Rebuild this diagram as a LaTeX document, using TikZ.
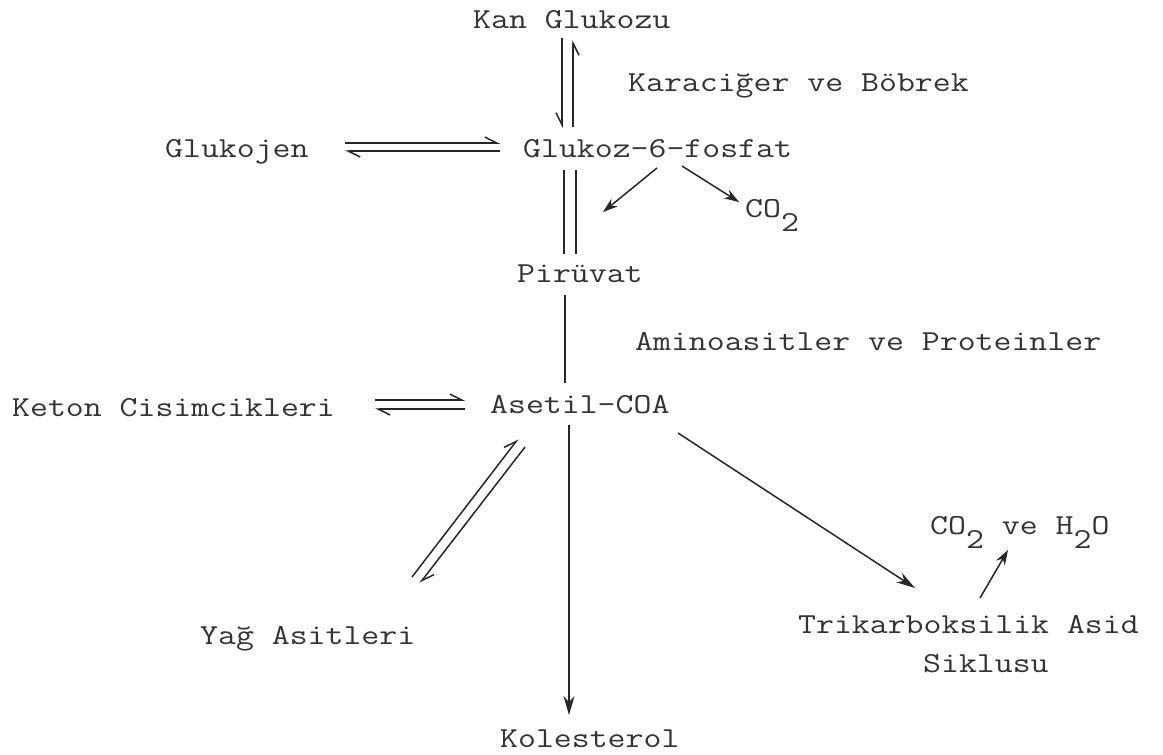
\documentclass[tikz,border=0pt]{standalone}
\usetikzlibrary{arrows.meta,calc}
\newcommand{\twfont}{\ttfamily\fontsize{29}{34}\selectfont}
\newcommand{\tw}[1]{\scalebox{1.2}[1]{#1}}
\newcommand{\lowsub}[1]{\raisebox{-0.5em}{#1}}
\begin{document}
\begin{tikzpicture}[x=1pt,y=-1pt,
  txt/.style={font=\twfont, inner sep=0pt, anchor=base west, text=black!80},
  ln/.style={line width=1.5pt, draw=black!85},
  harpL/.style={ln, -{Straight Barb[left,length=12pt,width=12pt]}},
  harpR/.style={ln, -{Straight Barb[right,length=12pt,width=12pt]}},
  fillarr/.style={ln, -{Stealth[length=19pt,width=11pt]}},
  smallarr/.style={ln, -{Stealth[length=15pt,width=10pt]}}]
\useasboundingbox (0,0) rectangle (1163,755);

% texts
\node[txt] (kan) at (473,28) {\tw{Kan Glukozu}};
\node[txt] (kar) at (628,91) {\tw{Karaciğer ve Böbrek}};
\node[txt] (glj) at (165,157) {\tw{Glukojen}};
\node[txt] (g6p) at (523,157) {\tw{Glukoz-6-fosfat}};
\node[txt] (co2a) at (745,217) {\tw{CO\lowsub{2}}};
\node[txt] (pir) at (517,282) {\tw{Pirüvat}};
\node[txt] (amino) at (635,350) {\tw{Aminoasitler ve Proteinler}};
\node[txt] (keton) at (12,416) {\tw{Keton Cisimcikleri}};
\node[txt] (aset) at (490,413) {\tw{Asetil-COA}};
\node[txt] (yag) at (200,644) {\tw{Yağ Asitleri}};
\node[txt] (kol) at (500,747) {\tw{Kolesterol}};
\node[txt] (co2b) at (930,534) {\tw{CO\lowsub{2} ve H\lowsub{2}O}};
\node[txt] (tca) at (798,633) {\tw{Trikarboksilik Asid}};
\node[txt] (tcb) at (923,672) {\tw{Siklusu}};
\coordinate (br) at (603,212);

% Kan Glukozu <-> Glukoz-6-fosfat
\draw[harpR] ($(kan.base west)+(89,10)$) -- ($(g6p.base west)+(39,-29)$);
\draw[harpR] ($(g6p.base west)+(50,-30)$) -- ($(kan.base west)+(100,12)$);

% Glukojen <-> Glukoz-6-fosfat
\draw[harpL] ($(glj.base west)+(180,-14)$) -- ($(g6p.base west)+(-23,-14)$);
\draw[harpL] ($(g6p.base west)+(-23,-6)$) -- ($(glj.base west)+(180,-6)$);

% Glukoz-6-fosfat = Piruvat
\draw[ln] ($(g6p.base west)+(41,13)$) -- ($(pir.base west)+(47,-28)$);
\draw[ln] ($(g6p.base west)+(53,13)$) -- ($(pir.base west)+(59,-28)$);

% branches from Glukoz-6-fosfat
\draw[smallarr] ($(g6p.base west)+(134,11)$) -- (br);
\draw[smallarr] ($(g6p.base west)+(159,9)$) -- ($(co2a.base west)+(-6,-15)$);

% Piruvat - Asetil-COA
\draw[ln] ($(pir.base west)+(48,13)$) -- ($(aset.base west)+(75,-30)$);

% Keton <-> Asetil
\draw[harpL] ($(keton.base west)+(363,-16)$) -- ($(aset.base west)+(-25,-13)$);
\draw[harpL] ($(aset.base west)+(-25,-4)$) -- ($(keton.base west)+(363,-7)$);

% Asetil <-> Yag Asitleri
\draw[harpL] ($(yag.base west)+(212,-67)$) -- ($(aset.base west)+(28,26)$);
\draw[harpL] ($(aset.base west)+(35,34)$) -- ($(yag.base west)+(220,-61)$);

% Asetil -> Kolesterol
\draw[fillarr] ($(aset.base west)+(79,12)$) -- ($(kol.base west)+(69,-32)$);

% Asetil -> TCA
\draw[fillarr] ($(aset.base west)+(188,20)$) -- ($(tca.base west)+(117,-45)$);

% TCA -> CO2 ve H2O
\draw[smallarr] ($(tca.base west)+(182,-35)$) -- ($(co2b.base west)+(78,16)$);
\end{tikzpicture}
\end{document}
